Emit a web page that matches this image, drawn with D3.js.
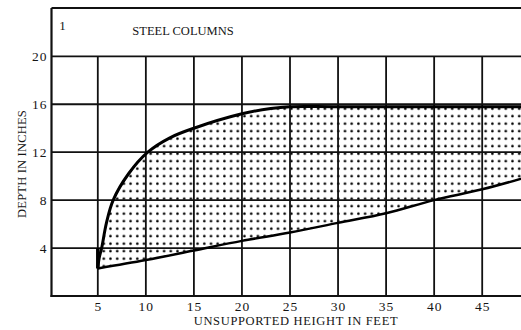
<!DOCTYPE html>
<html>
<head>
<meta charset="utf-8">
<script src="https://cdn.jsdelivr.net/npm/d3@7"></script>
<style>
  html, body { margin: 0; padding: 0; background: #fff; }
  svg { display: block; }
  text { font-family: "Liberation Serif", "DejaVu Serif", serif; fill: #151515; }
</style>
</head>
<body>
<svg id="chart" width="521" height="330"></svg>
<script>
// Depth range of steel columns against unsupported height
const xTicks = [5, 10, 15, 20, 25, 30, 35, 40, 45];
const yTicks = [4, 8, 12, 16, 20];

// Upper limit of the band (depth in inches at a given height in feet)
const upperHeight = [5.0, 5.15, 5.4, 5.9, 6.6, 8.2, 10.2, 12.5, 15, 20, 23, 25, 30, 50];
const upperDepth  = [2.35, 3.2, 4.0, 6.1, 8.0, 10.2, 12.0, 13.2, 14.0, 15.2, 15.65, 15.8, 15.8, 15.8];

// Lower limit of the band
const lowerHeight = [5, 10, 15, 20, 25, 30, 35, 40, 45, 50];
const lowerDepth  = [2.3, 3.0, 3.8, 4.6, 5.3, 6.1, 6.9, 8.0, 8.9, 10.0];

const title = "STEEL COLUMNS";
const panelNo = "1";
const xTitle = "UNSUPPORTED HEIGHT IN FEET";
const yTitle = "DEPTH IN INCHES";

const svg = d3.select("#chart");
const W = 521;
const frameLeft = 51.5, frameTop = 8, frameBottom = 296;

const x = d3.scaleLinear().domain([0, 50]).range([49.75, 530.25]);
const y = d3.scaleLinear().domain([0, 20]).range([296, 56.3]);

// dot screen used for the shaded band
const defs = svg.append("defs");
const pat = defs.append("pattern")
  .attr("id", "dots").attr("patternUnits", "userSpaceOnUse")
  .attr("width", 6.7).attr("height", 7.5);
pat.append("circle").attr("cx", 3.3).attr("cy", 3.7).attr("r", 1.3).attr("fill", "#000");

defs.append("clipPath").attr("id", "plotClip")
  .append("rect").attr("x", frameLeft).attr("y", y(20)).attr("width", W - frameLeft).attr("height", frameBottom - y(20));

const upperPts = upperHeight.map((h, i) => [h, upperDepth[i]]);
const lowerPts = lowerHeight.map((h, i) => [h, lowerDepth[i]]);

const upperLine = d3.line().x(d => x(d[0])).y(d => y(d[1])).curve(d3.curveCatmullRom.alpha(0.5));
const lowerLine = d3.line().x(d => x(d[0])).y(d => y(d[1])).curve(d3.curveCatmullRom);

const bandPath = upperLine(upperPts) + lowerLine(lowerPts.slice().reverse()).replace(/^M/, "L") + "Z";

const plot = svg.append("g").attr("clip-path", "url(#plotClip)");
plot.append("path").attr("d", bandPath).attr("fill", "url(#dots)");

// grid
const grid = svg.append("g").attr("stroke", "#111").attr("stroke-width", 1.8);
grid.selectAll("line.v").data(xTicks).join("line").attr("class", "v")
  .attr("x1", d => x(d)).attr("x2", d => x(d))
  .attr("y1", y(20)).attr("y2", frameBottom);
grid.selectAll("line.h").data(yTicks).join("line").attr("class", "h")
  .attr("x1", frameLeft).attr("x2", W)
  .attr("y1", d => y(d)).attr("y2", d => y(d));

// band outlines
const outlines = svg.append("g").attr("clip-path", "url(#plotClip)");
outlines.append("path").attr("d", upperLine(upperPts))
  .attr("fill", "none").attr("stroke", "#000").attr("stroke-width", 3);
outlines.append("path").attr("d", lowerLine(lowerPts))
  .attr("fill", "none").attr("stroke", "#000").attr("stroke-width", 2.5);
// closing edge at the short end
outlines.append("line")
  .attr("x1", x(5)).attr("x2", x(5))
  .attr("y1", y(lowerDepth[0])).attr("y2", y(upperDepth[2]))
  .attr("stroke", "#000").attr("stroke-width", 3.5);

// frame
const frame = svg.append("g").attr("stroke", "#111").attr("stroke-width", 2.2).attr("fill", "none");
frame.append("line").attr("x1", frameLeft).attr("x2", frameLeft).attr("y1", frameTop).attr("y2", frameBottom + 1);
frame.append("line").attr("x1", frameLeft).attr("x2", W).attr("y1", frameTop).attr("y2", frameTop);
frame.append("line").attr("x1", frameLeft - 1).attr("x2", W).attr("y1", frameBottom).attr("y2", frameBottom);

// axes (labels only)
const xAxis = svg.append("g").attr("transform", `translate(0,${frameBottom})`)
  .call(d3.axisBottom(x).tickValues(xTicks).tickSize(0).tickPadding(5).tickFormat(d3.format("d")));
const yAxis = svg.append("g").attr("transform", `translate(${frameLeft},0)`)
  .call(d3.axisLeft(y).tickValues(yTicks).tickSize(0).tickPadding(4).tickFormat(d3.format("d")));
[xAxis, yAxis].forEach(a => {
  a.select(".domain").remove();
  a.selectAll("text")
    .attr("font-family", "Liberation Serif, serif")
    .attr("font-size", 13.5).attr("letter-spacing", 1).attr("fill", "#151515");
});

// titles
svg.append("text").attr("x", 62.5).attr("y", 30).attr("font-size", 13).attr("text-anchor", "middle").text(panelNo);
svg.append("text").attr("x", 183).attr("y", 35).attr("font-size", 12.5)
  .attr("letter-spacing", 0).attr("text-anchor", "middle").text(title);
svg.append("text").attr("x", 296).attr("y", 325).attr("font-size", 12.5)
  .attr("letter-spacing", 0.65).attr("text-anchor", "middle").text(xTitle);
svg.append("text").attr("transform", "translate(26,164) rotate(-90)")
  .attr("font-size", 12.5).attr("letter-spacing", 0.2).attr("text-anchor", "middle").text(yTitle);
</script>
</body>
</html>
